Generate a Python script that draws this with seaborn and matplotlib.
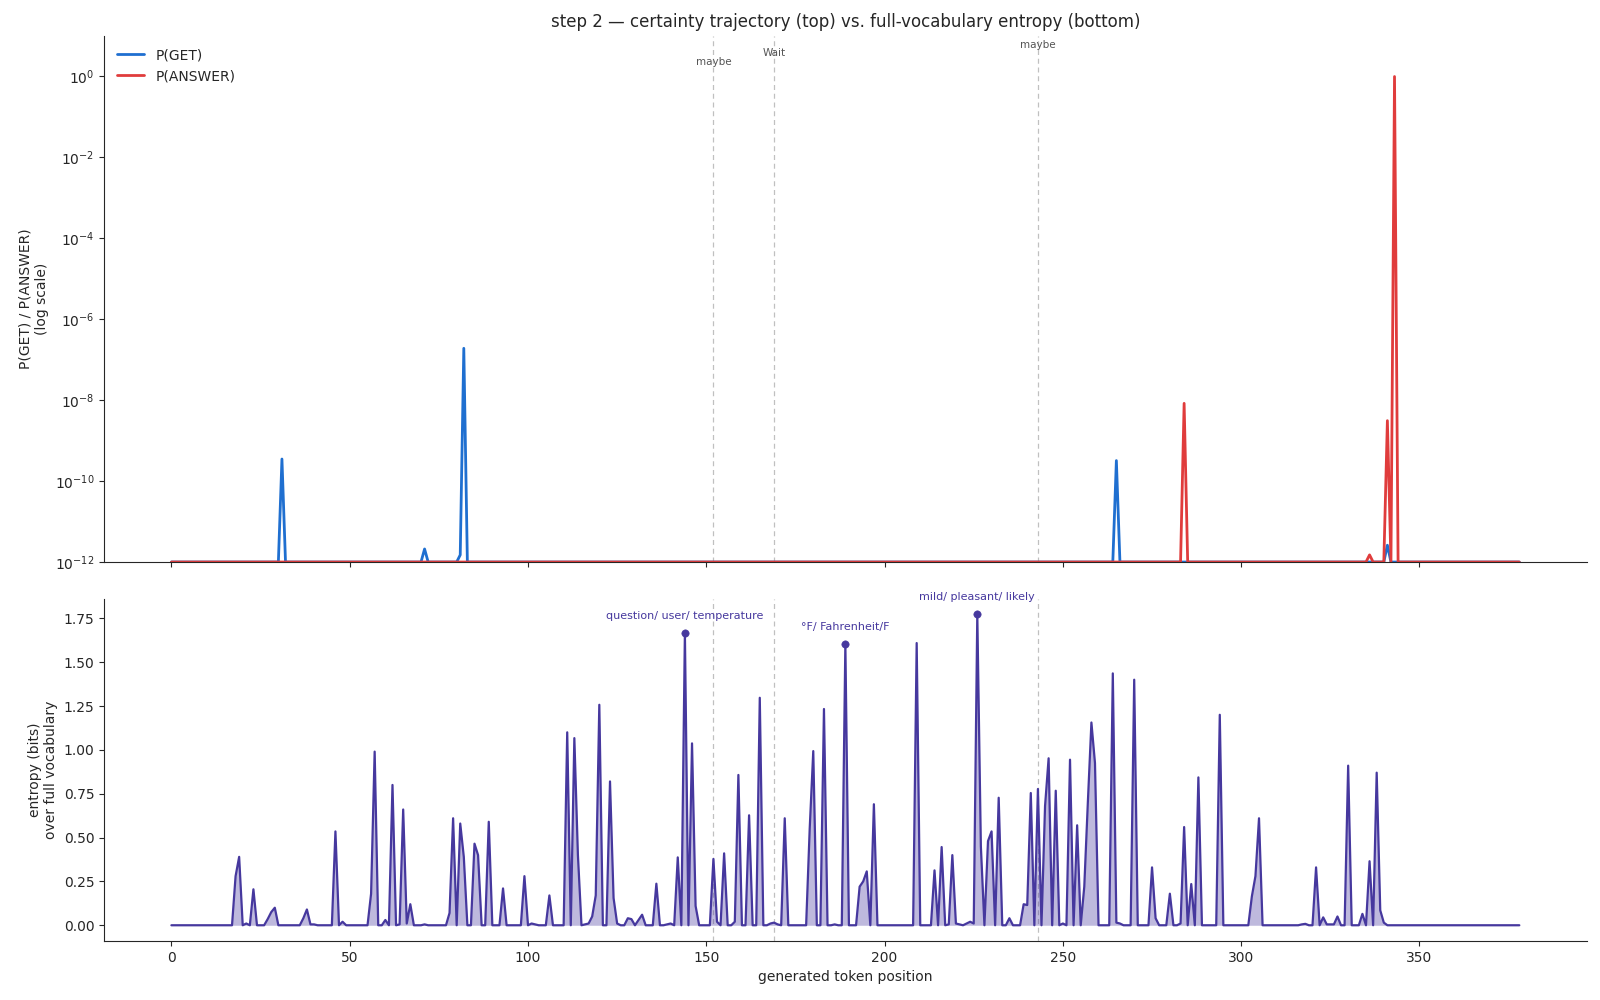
import numpy as np
import pandas as pd
import matplotlib
matplotlib.use("Agg")
import matplotlib.pyplot as plt
from matplotlib.ticker import NullLocator
import seaborn as sns

# ---------------- data ----------------
n_tokens = 379  # generated token positions 0..378

# P(GET) / P(ANSWER): non-floor values (everything else sits at the 1e-12 floor)
p_get_pos = [31, 71, 81, 82, 265, 341]
p_get_val = [3.5e-10, 2.1e-12, 1.5e-12, 1.9e-7, 3.2e-10, 2.6e-12]
p_ans_pos = [284, 336, 341, 343]
p_ans_val = [8.3e-9, 1.5e-12, 3.1e-9, 0.98]
prob_floor = 1e-12

# entropy (bits) over full vocabulary: non-zero positions / values
ent_pos = [18, 19, 21, 23, 27, 28, 29, 37, 38, 39, 40, 46, 48, 56, 57, 60, 62, 64, 65, 66, 67, 71,
           78, 79, 81, 82, 85, 86, 89, 93, 99, 101, 102, 106, 111, 113, 114, 116, 117, 118, 119, 120,
           123, 124, 125, 128, 129, 131, 132, 136, 139, 140, 142, 144, 146, 147, 152, 153, 155, 158,
           159, 162, 165, 168, 169, 170, 172, 179, 180, 183, 186, 189, 193, 194, 195, 197, 209, 214,
           216, 218, 219, 220, 221, 223, 224, 225, 226, 227, 229, 230, 232, 235, 239, 240, 241, 243,
           245, 246, 248, 250, 252, 254, 256, 257, 258, 259, 264, 265, 266, 270, 275, 276, 280, 283,
           284, 286, 288, 294, 303, 304, 305, 317, 318, 321, 323, 324, 325, 326, 327, 330, 334, 336,
           338, 339, 340]
ent_val = [0.28, 0.39, 0.01, 0.205, 0.035, 0.075, 0.10, 0.04, 0.09, 0.005, 0.005, 0.535, 0.02, 0.18,
           0.99, 0.03, 0.80, 0.005, 0.66, 0.01, 0.12, 0.005,
           0.07, 0.61, 0.58, 0.39, 0.465, 0.40, 0.59, 0.21, 0.28, 0.01, 0.005, 0.17, 1.10, 1.067, 0.40,
           0.005, 0.01, 0.05, 0.17, 1.257,
           0.82, 0.155, 0.01, 0.04, 0.035, 0.03, 0.06, 0.237, 0.005, 0.01, 0.387, 1.666, 1.037, 0.11,
           0.378, 0.02, 0.41, 0.02,
           0.857, 0.627, 1.297, 0.01, 0.015, 0.005, 0.61, 0.55, 0.993, 1.233, 0.005, 1.603, 0.22, 0.25,
           0.307, 0.69, 1.609, 0.313,
           0.446, 0.005, 0.40, 0.01, 0.005, 0.01, 0.02, 0.01, 1.772, 0.45, 0.48, 0.535, 0.727, 0.04,
           0.12, 0.115, 0.754, 0.777,
           0.68, 0.952, 0.767, 0.01, 0.944, 0.57, 0.22, 0.70, 1.156, 0.925, 1.436, 0.015, 0.01, 1.40,
           0.33, 0.04, 0.18, 0.01,
           0.56, 0.235, 0.843, 1.20, 0.165, 0.28, 0.61, 0.005, 0.008, 0.33, 0.045, 0.005, 0.005, 0.005,
           0.05, 0.91, 0.065, 0.365,
           0.87, 0.085, 0.015]

# top-3 entropy peaks and their top candidate tokens
peak_pos = [144, 189, 226]
peak_labels = ["question/ user/ temperature", "\u00b0F/ Fahrenheit/F", "mild/ pleasant/ likely"]

# hesitation markers
marker_pos = [152, 169, 243]
marker_words = ["maybe", "Wait", "maybe"]
marker_label_y = [0.95, 0.967, 0.983]

# ---------------- build series ----------------
positions = np.arange(n_tokens)
p_get = np.full(n_tokens, prob_floor)
p_get[p_get_pos] = p_get_val
p_ans = np.full(n_tokens, prob_floor)
p_ans[p_ans_pos] = p_ans_val
entropy = np.zeros(n_tokens)
entropy[ent_pos] = ent_val

df = pd.DataFrame({"pos": positions,
                   "P(GET)": np.clip(p_get, prob_floor, None),
                   "P(ANSWER)": np.clip(p_ans, prob_floor, None),
                   "entropy": entropy})

# ---------------- style ----------------
sns.set_style("ticks")
plt.rcParams["font.family"] = ["DejaVu Sans"]

c_get = "#1f6fd0"
c_ans = "#e03c3c"
c_ent = "#46389e"
c_mark = "#c0c0c0"

fig, (ax1, ax2) = plt.subplots(2, 1, figsize=(16, 10), dpi=100, sharex=True,
                               gridspec_kw={"height_ratios": [526.5, 342]})
fig.subplots_adjust(left=0.065, right=0.9917, top=0.9643, bottom=0.0592, hspace=0.085)

# ---- top: certainty trajectory ----
sns.lineplot(data=df, x="pos", y="P(GET)", ax=ax1, color=c_get, lw=2.0, label="P(GET)")
sns.lineplot(data=df, x="pos", y="P(ANSWER)", ax=ax1, color=c_ans, lw=2.0, label="P(ANSWER)")
ax1.set_yscale("log")
ax1.set_ylim(1e-12, 10)
ax1.set_yticks([1e-12, 1e-10, 1e-8, 1e-6, 1e-4, 1e-2, 1e0])
ax1.yaxis.set_minor_locator(NullLocator())
ax1.set_ylabel("P(GET) / P(ANSWER)\n(log scale)", fontsize=10)
ax1.set_xlabel("")
ax1.set_title("step 2 \u2014 certainty trajectory (top) vs. full-vocabulary entropy (bottom)",
              fontsize=12)
ax1.legend(loc="upper left", frameon=False, fontsize=10)
for xp, word, yl in zip(marker_pos, marker_words, marker_label_y):
    ax1.axvline(xp, color=c_mark, lw=0.9, ls=(0, (4, 3)), zorder=0)
    ax1.text(xp, yl, word, transform=ax1.get_xaxis_transform(), ha="center", va="center",
             fontsize=7.5, color="#555555")

# ---- bottom: entropy ----
sns.lineplot(data=df, x="pos", y="entropy", ax=ax2, color=c_ent, lw=1.6)
ax2.fill_between(df["pos"], df["entropy"], color=c_ent, alpha=0.35, lw=0)
peak_df = df.loc[peak_pos]
sns.scatterplot(data=peak_df, x="pos", y="entropy", ax=ax2, color=c_ent, s=28,
                edgecolor=c_ent, zorder=5)
for xp, lab in zip(peak_pos, peak_labels):
    ax2.annotate(lab, (xp, df.loc[xp, "entropy"]), xytext=(0, 9), textcoords="offset points",
                 ha="center", va="bottom", fontsize=8, color=c_ent)
for xp in marker_pos:
    ax2.axvline(xp, color=c_mark, lw=0.9, ls=(0, (4, 3)), zorder=0)
ax2.set_ylabel("entropy (bits)\nover full vocabulary", fontsize=10)
ax2.set_xlabel("generated token position", fontsize=10)

for ax in (ax1, ax2):
    ax.tick_params(labelsize=10)
sns.despine(fig=fig)

fig.savefig("out.png", dpi=100)
